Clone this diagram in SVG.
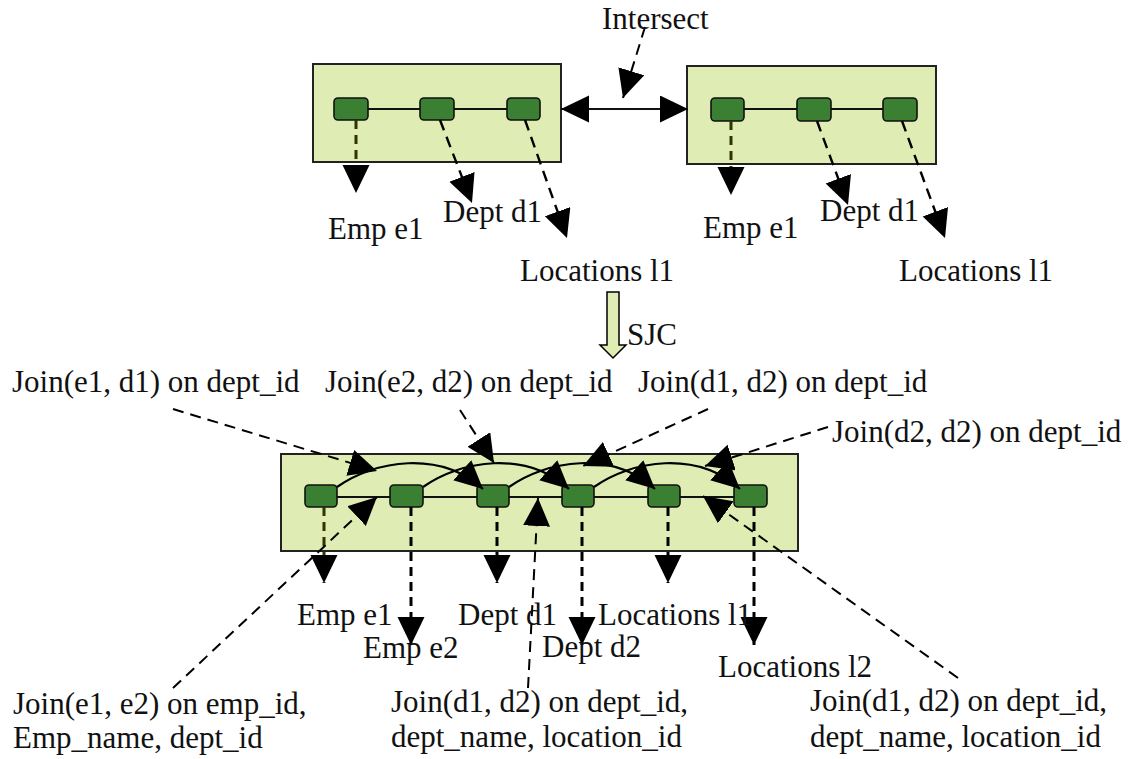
<svg xmlns="http://www.w3.org/2000/svg" width="1137" height="759" viewBox="0 0 1137 759">
  <style>
    .box { fill: #dfedb4; stroke: #222; stroke-width: 2; }
    .node { fill: #3b7f32; stroke: #111; stroke-width: 1.6; }
    .link { fill: none; stroke: #111; stroke-width: 2; }
    .curve { fill: none; stroke: #000; stroke-width: 2.2; marker-end: url(#ah); }
    .down { fill: none; stroke: #000; stroke-width: 3; stroke-dasharray: 9 6; marker-end: url(#ah); }
    .olive { stroke: #333300; }
    .slant { fill: none; stroke: #000; stroke-width: 2.4; stroke-dasharray: 11 7; marker-end: url(#ah); }
    .ptr { fill: none; stroke: #000; stroke-width: 2; stroke-dasharray: 11 7; marker-end: url(#ah); }
    .lbl { font-family: "Liberation Serif", "Times New Roman", serif; font-size: 31px; fill: #111; }
    .sjc { fill: #dfedb4; stroke: #000; stroke-width: 1.5; }
  </style>
  <defs>
    <marker id="ah" markerUnits="userSpaceOnUse" markerWidth="29" markerHeight="28" refX="28" refY="13.5" orient="auto">
      <path d="M0,0 L28,13.5 L0,27 z" fill="#000"/>
    </marker>
    <marker id="ahs" markerUnits="userSpaceOnUse" markerWidth="29" markerHeight="28" refX="28" refY="13.5" orient="auto-start-reverse">
      <path d="M0,0 L28,13.5 L0,27 z" fill="#000"/>
    </marker>
  </defs>

  <!-- left source schema -->
  <g id="schema-left">
    <rect class="box" x="313" y="64" width="248" height="98"/>
    <line class="link" x1="368" y1="109" x2="507" y2="109"/>
    <rect class="node" x="334" y="98" width="34" height="22" rx="4"/>
    <rect class="node" x="420" y="98" width="34" height="22" rx="4"/>
    <rect class="node" x="507" y="98" width="33" height="22" rx="4"/>
  </g>

  <!-- right source schema -->
  <g id="schema-right">
    <rect class="box" x="687" y="66" width="249" height="98"/>
    <line class="link" x1="744" y1="109" x2="883" y2="109"/>
    <rect class="node" x="711" y="98" width="33" height="23" rx="4"/>
    <rect class="node" x="797" y="98" width="34" height="23" rx="4"/>
    <rect class="node" x="883" y="98" width="34" height="23" rx="4"/>
  </g>

  <!-- combined schema after SJC -->
  <g id="schema-joined">
    <rect class="box" x="281" y="454" width="517" height="97"/>
    <line class="link" x1="321" y1="497" x2="750" y2="497"/>
    <rect class="node" x="305" y="485" width="32" height="22" rx="4"/>
    <rect class="node" x="390" y="485" width="33" height="22" rx="4"/>
    <rect class="node" x="477" y="485" width="32" height="22" rx="4"/>
    <rect class="node" x="562" y="485" width="32" height="22" rx="4"/>
    <rect class="node" x="648" y="485" width="32" height="22" rx="4"/>
    <rect class="node" x="734" y="485" width="33" height="22" rx="4"/>
  </g>

  <!-- SJC block arrow -->
  <g id="sjc-arrow">
    <polygon class="sjc" points="607,292 619,292 619,345 626,345 613,358 600,345 607,345"/>
  </g>

  <g id="connectors">
    <!-- intersect between the two schemas -->
    <line class="link" x1="561" y1="109" x2="688" y2="109" style="marker-start:url(#ahs);marker-end:url(#ahs)"/>
    <line class="ptr" x1="645" y1="27" x2="623" y2="98"/>

    <!-- left schema tables -->
    <line class="down olive" x1="356" y1="120" x2="356" y2="193"/>
    <line class="slant" x1="440" y1="120" x2="472" y2="203"/>
    <line class="slant" x1="525" y1="120" x2="567" y2="238"/>

    <!-- right schema tables -->
    <line class="down olive" x1="731" y1="121" x2="731" y2="195"/>
    <line class="slant" x1="817" y1="121" x2="848" y2="205"/>
    <line class="slant" x1="902" y1="121" x2="945" y2="238"/>

    <!-- joins inside the combined schema -->
    <path class="curve" d="M337,487 C375,460 440,450 483,489"/>
    <path class="curve" d="M423,487 C461,460 526,450 569,489"/>
    <path class="curve" d="M509,487 C547,460 612,450 655,489"/>
    <path class="curve" d="M594,487 C632,460 697,450 740,489"/>

    <!-- combined schema tables -->
    <line class="down olive" x1="324" y1="507" x2="324" y2="583"/>
    <line class="down" x1="411" y1="507" x2="411" y2="645"/>
    <line class="down" x1="497" y1="507" x2="497" y2="583"/>
    <line class="down" x1="582" y1="507" x2="582" y2="645"/>
    <line class="down" x1="668" y1="507" x2="668" y2="583"/>
    <line class="down" x1="754" y1="507" x2="754" y2="645"/>

    <!-- join annotations -->
    <line class="ptr" x1="173" y1="409" x2="377" y2="471"/>
    <line class="ptr" x1="460" y1="410" x2="494" y2="463"/>
    <line class="ptr" x1="708" y1="409" x2="583" y2="466"/>
    <line class="ptr" x1="828" y1="427" x2="705" y2="466"/>
    <line class="ptr" x1="173" y1="688" x2="377" y2="497"/>
    <line class="ptr" x1="528" y1="688" x2="538" y2="498"/>
    <line class="ptr" x1="958" y1="678" x2="703" y2="496"/>
  </g>

  <g id="labels">
    <text class="lbl" x="602" y="29">Intersect</text>
    <text class="lbl" x="328" y="239">Emp e1</text>
    <text class="lbl" x="443" y="222">Dept d1</text>
    <text class="lbl" x="520" y="281">Locations l1</text>
    <text class="lbl" x="703" y="238">Emp e1</text>
    <text class="lbl" x="820" y="221">Dept d1</text>
    <text class="lbl" x="899" y="281">Locations l1</text>
    <text class="lbl" x="627" y="345">SJC</text>

    <text class="lbl" x="12" y="392">Join(e1, d1) on dept_id</text>
    <text class="lbl" x="325" y="392">Join(e2, d2) on dept_id</text>
    <text class="lbl" x="638" y="392">Join(d1, d2) on dept_id</text>
    <text class="lbl" x="832" y="442">Join(d2, d2) on dept_id</text>

    <text class="lbl" x="297" y="625">Emp e1</text>
    <text class="lbl" x="363" y="658">Emp e2</text>
    <text class="lbl" x="458" y="625">Dept d1</text>
    <text class="lbl" x="542" y="657">Dept d2</text>
    <text class="lbl" x="598" y="625">Locations l1</text>
    <text class="lbl" x="718" y="677">Locations l2</text>

    <text class="lbl" x="13" y="714">Join(e1, e2) on emp_id,</text>
    <text class="lbl" x="13" y="748">Emp_name, dept_id</text>
    <text class="lbl" x="391" y="712">Join(d1, d2) on dept_id,</text>
    <text class="lbl" x="391" y="747">dept_name, location_id</text>
    <text class="lbl" x="810" y="711">Join(d1, d2) on dept_id,</text>
    <text class="lbl" x="810" y="747">dept_name, location_id</text>
  </g>
</svg>
